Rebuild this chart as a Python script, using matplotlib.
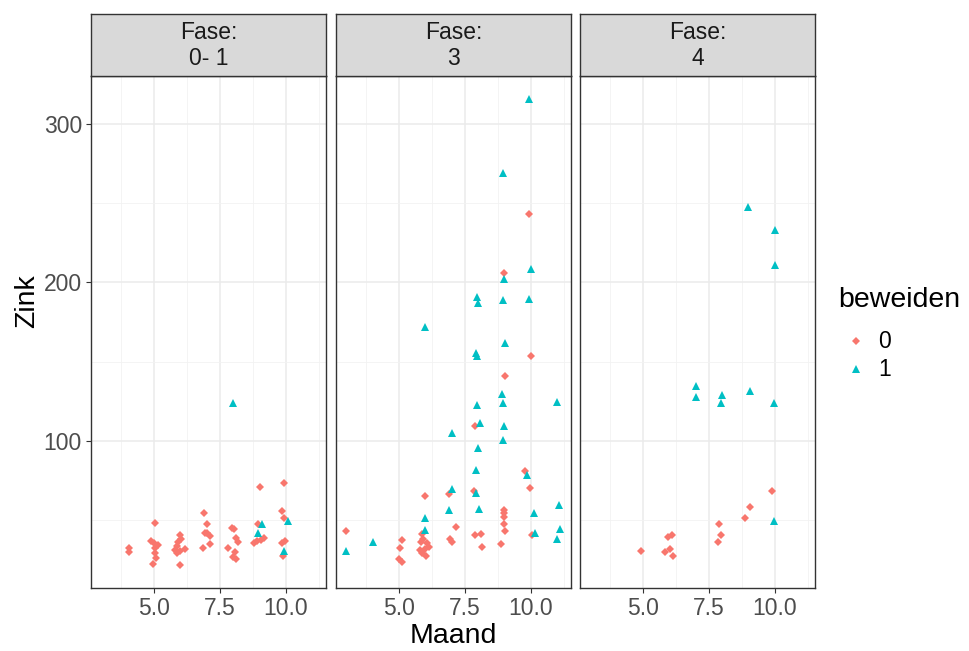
import matplotlib
matplotlib.use("Agg")
import matplotlib.pyplot as plt
from matplotlib.lines import Line2D

plt.rcParams['font.family'] = ['Liberation Sans', 'DejaVu Sans']

strip_labels = ["Fase:\n0- 1", "Fase:\n3", "Fase:\n4"]
legend_title = "beweiden"
groups = ["0", "1"]
x_ticks = [5.0, 7.5, 10.0]
x_ticklabels = ["5.0", "7.5", "10.0"]
y_ticks = [100, 200, 300]
y_ticklabels = ["100", "200", "300"]

# Panel 1 (Fase 0-1)
p1_maand_0 = [4.02, 4.02, 5.03, 4.89, 5.0, 5.14, 5.04, 5.03, 5.08, 4.94,
              5.98, 6.0, 5.91, 5.87, 5.80, 5.98, 6.17, 5.85, 5.98,
              6.89, 7.02, 6.93, 7.02, 7.12, 7.13, 6.85,
              7.94, 8.04, 8.09, 8.17, 7.80, 8.07, 7.98, 8.09,
              9.02, 8.93, 8.80, 8.89, 9.04, 9.17,
              9.93, 9.87, 9.93, 9.87, 9.97, 9.90]
p1_zink_0 = [32.3, 30.2, 48.3, 37.1, 35.5, 34.6, 32.3, 29.2, 26.6, 22.8,
             40.5, 38.4, 36.1, 34.0, 31.3, 30.6, 31.7, 29.2, 22.2,
             54.4, 47.6, 42.2, 41.8, 40.1, 35.2, 32.3,
             45.5, 44.5, 39.2, 36.3, 32.3, 30.2, 27.1, 25.6,
             71.0, 47.6, 35.9, 37.1, 37.6, 38.8,
             73.7, 55.8, 51.8, 35.5, 37.1, 27.7]
p1_maand_1 = [7.98, 9.08, 8.95, 10.08, 9.92]
p1_zink_1 = [124.1, 47.6, 42.2, 49.5, 30.8]

# Panel 2 (Fase 3)
p2_maand_0 = [7.88, 9.79, 9.97, 5.96, 6.88, 7.83, 8.97, 8.97, 8.98, 8.99, 9.02, 8.88,
              2.98, 7.14, 7.88, 8.09, 8.14, 6.93, 7.0, 10.06,
              5.10, 5.03, 4.99, 5.11, 5.87,
              5.81, 5.91, 6.04, 6.14, 5.98, 5.79, 5.85, 6.02,
              9.92, 8.97, 10.01, 9.02]
p2_zink_0 = [109.6, 81.3, 70.5, 65.5, 66.8, 68.7, 56.7, 54.4, 52.1, 47.6, 43.4, 35.2,
             43.4, 45.8, 40.7, 41.3, 33.4, 38.4, 36.3, 40.7,
             37.4, 32.5, 25.6, 23.7, 41.3,
             36.6, 38.0, 35.5, 33.4, 31.8, 31.3, 29.2, 27.5,
             243.3, 206.1, 153.8, 140.9]
p2_maand_1 = [8.92, 8.93, 10.98, 7.95, 8.08, 8.99, 6.99, 8.95, 7.99, 7.90, 9.87,
              6.99, 7.90, 6.90, 8.03, 11.07, 10.11, 5.99, 5.99, 10.16, 11.12,
              10.98, 4.0, 2.98,
              9.94, 8.94, 9.99, 8.98, 7.95, 7.99, 8.95, 9.94, 5.99, 9.03, 7.92, 7.95]
p2_zink_1 = [129.6, 123.9, 124.5, 122.4, 111.5, 109.4, 104.8, 100.4, 95.5, 81.9, 78.7,
             69.5, 67.4, 56.7, 56.9, 59.8, 54.8, 51.6, 43.9, 42.0, 44.7,
             38.4, 36.3, 30.8,
             315.5, 268.7, 208.6, 201.9, 191.0, 186.7, 188.8, 189.5, 171.6, 162.0, 155.7, 153.5]

# Panel 3 (Fase 4)
p3_maand_0 = [9.89, 9.06, 8.85, 7.89, 7.97, 7.85, 6.10, 5.94, 6.03, 5.81, 6.12, 4.90]
p3_zink_0 = [68.3, 58.6, 51.7, 47.7, 40.8, 36.6, 40.8, 39.3, 31.7, 30.3, 27.5, 30.5]
p3_maand_1 = [8.99, 9.99, 9.99, 6.99, 6.99, 7.98, 7.95, 9.07, 9.96, 9.96]
p3_zink_1 = [247.7, 232.8, 210.7, 134.9, 127.7, 128.8, 123.7, 131.7, 124.0, 49.6]

panels = [
    (p1_maand_0, p1_zink_0, p1_maand_1, p1_zink_1),
    (p2_maand_0, p2_zink_0, p2_maand_1, p2_zink_1),
    (p3_maand_0, p3_zink_0, p3_maand_1, p3_zink_1),
]

col0 = "#F8766D"
col1 = "#00BFC4"
W, H = 970, 651
fig = plt.figure(figsize=(W / 100, H / 100), dpi=100)

lefts = [91, 336, 580]
pw = 235
ptop, pbot = 76, 588
stop = 14.3

tick_fs = 16.5
title_fs = 20.5
ms_d = 4.2
ms_t = 5.8

for i, (x0, y0, x1, y1) in enumerate(panels):
    L = lefts[i]
    ax = fig.add_axes([L / W, 1 - pbot / H, pw / W, (pbot - ptop) / H])
    ax.set_xlim(2.59, 11.53)
    ax.set_ylim(7.4, 330)
    ax.set_facecolor("white")
    ax.set_xticks(x_ticks)
    ax.set_xticklabels(x_ticklabels)
    ax.set_xticks([3.75, 6.25, 8.75, 11.25], minor=True)
    ax.set_yticks(y_ticks)
    ax.set_yticks([50, 150, 250], minor=True)
    if i == 0:
        ax.set_yticklabels(y_ticklabels)
    else:
        ax.set_yticklabels([])
    ax.grid(True, which="major", color="#EBEBEB", linewidth=1.1)
    ax.grid(True, which="minor", color="#F2F2F2", linewidth=0.6)
    ax.set_axisbelow(True)
    ax.tick_params(which="major", direction="out", length=3.5, width=0.8, color="#333333",
                   labelsize=tick_fs, labelcolor="#4D4D4D", pad=3)
    ax.tick_params(which="minor", length=0)
    if i != 0:
        ax.tick_params(axis="y", which="major", length=0)
    for s in ax.spines.values():
        s.set_color("#333333")
        s.set_linewidth(1.0)
    ax.plot(x0, y0, linestyle="none", marker="D", markersize=ms_d, color=col0,
            markeredgewidth=0, zorder=3)
    ax.plot(x1, y1, linestyle="none", marker="^", markersize=ms_t, color=col1,
            markeredgewidth=0, zorder=3)

    sax = fig.add_axes([L / W, 1 - ptop / H, pw / W, (ptop - stop) / H])
    sax.set_facecolor("#D9D9D9")
    sax.set_xticks([])
    sax.set_yticks([])
    for s in sax.spines.values():
        s.set_color("#333333")
        s.set_linewidth(1.0)
    sax.text(0.5, 0.49, strip_labels[i], ha="center", va="center", fontsize=tick_fs,
             color="#1A1A1A", transform=sax.transAxes, linespacing=1.15)

fig.text(453 / W, 1 - 636 / H, "Maand", ha="center", va="center", fontsize=title_fs, color="black")
fig.text(27 / W, 1 - 301 / H, "Zink", ha="center", va="center", rotation=90,
         fontsize=title_fs, color="black")

# legend
fig.text(838 / W, 1 - 300 / H, legend_title, ha="left", va="center", fontsize=title_fs, color="black")
lx = 856 / W
fig.add_artist(Line2D([lx], [1 - 341 / H], marker="D", markersize=4.0, color=col0,
                      markeredgewidth=0, linestyle="none", transform=fig.transFigure))
fig.add_artist(Line2D([lx], [1 - 369 / H], marker="^", markersize=5.5, color=col1,
                      markeredgewidth=0, linestyle="none", transform=fig.transFigure))
fig.text(878 / W, 1 - 341 / H, groups[0], ha="left", va="center", fontsize=tick_fs, color="black")
fig.text(878 / W, 1 - 369 / H, groups[1], ha="left", va="center", fontsize=tick_fs, color="black")

fig.savefig("out.png", dpi=100, facecolor="white")
